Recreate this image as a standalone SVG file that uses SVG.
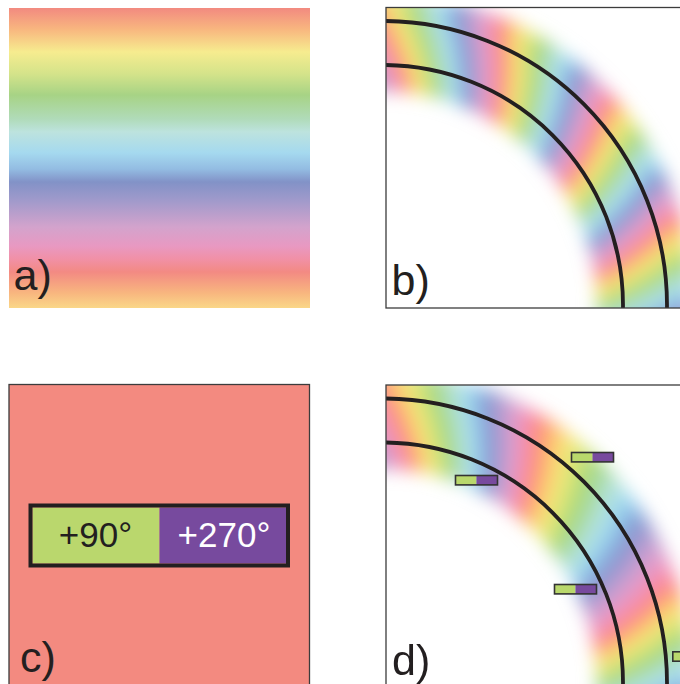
<svg xmlns="http://www.w3.org/2000/svg" width="680" height="684" viewBox="0 0 680 684">
<style>
.lbl{font-family:"Liberation Sans",Arial,sans-serif;font-size:43px;fill:#231f20}
.frame{fill:none;stroke:#3c3c3c;stroke-width:1.3}
.arc{fill:none;stroke:#231f20;stroke-width:3.8}
.seg circle{fill:none;stroke-width:19;stroke-dasharray:1.15 16.85}
.mg{fill:#b9d86c}
.mp{fill:#784a9e}
.mo{fill:none;stroke:#333;stroke-width:1.6}
.val{font-family:"Liberation Sans",Arial,sans-serif;font-size:35px;text-anchor:middle}
</style>
<defs>
<linearGradient id="gradA" x1="0" y1="0" x2="0" y2="1">
<stop offset="0" stop-color="#F28A80"/>
<stop offset="0.0704" stop-color="#F8B67F"/>
<stop offset="0.1467" stop-color="#F6EC8F"/>
<stop offset="0.22" stop-color="#D4E38A"/>
<stop offset="0.29" stop-color="#A7D385"/>
<stop offset="0.37" stop-color="#B0DBB9"/>
<stop offset="0.413" stop-color="#BDE3DE"/>
<stop offset="0.483" stop-color="#A5D9EF"/>
<stop offset="0.537" stop-color="#93BCE2"/>
<stop offset="0.58" stop-color="#8292C7"/>
<stop offset="0.643" stop-color="#A19ACB"/>
<stop offset="0.73" stop-color="#D3A3CC"/>
<stop offset="0.793" stop-color="#E899C2"/>
<stop offset="0.837" stop-color="#F190A6"/>
<stop offset="0.88" stop-color="#F38A83"/>
<stop offset="0.95" stop-color="#F8B67F"/>
<stop offset="1" stop-color="#FAD788"/>
</linearGradient>
<filter id="blur" filterUnits="userSpaceOnUse" x="-400" y="-400" width="800" height="800">
<feGaussianBlur stdDeviation="9"/>
<feColorMatrix type="saturate" values="1.15"/>
</filter>
<clipPath id="clipB"><rect x="386" y="8" width="300" height="300"/></clipPath>
<clipPath id="clipD"><rect x="386" y="385.5" width="300" height="300"/></clipPath>
<clipPath id="w1"><polygon points="0,0 -424.3,-424.3 0,-600 385.7,-459.6"/></clipPath>
<clipPath id="w2"><polygon points="0,0 339.8,-494.5 491.5,-344.2 590.9,-104.2"/></clipPath>
<clipPath id="w3"><polygon points="0,0 580.9,-150.2 600,0 424.3,424.3"/></clipPath>
<g id="ringB" class="seg"><g transform="rotate(-135)">
<circle r="263" pathLength="254.62" stroke="#F49980" stroke-dashoffset="-14.676"/>
<circle r="263" pathLength="254.62" stroke="#F8B87F" stroke-dashoffset="-15.676"/>
<circle r="263" pathLength="254.62" stroke="#F7DB8A" stroke-dashoffset="-16.676"/>
<circle r="263" pathLength="254.62" stroke="#EBE98D" stroke-dashoffset="-17.676"/>
<circle r="263" pathLength="254.62" stroke="#D4E38A" stroke-dashoffset="-18.676"/>
<circle r="263" pathLength="254.62" stroke="#B4D886" stroke-dashoffset="-19.676"/>
<circle r="263" pathLength="254.62" stroke="#AAD697" stroke-dashoffset="-20.676"/>
<circle r="263" pathLength="254.62" stroke="#B0DBB8" stroke-dashoffset="-21.676"/>
<circle r="263" pathLength="254.62" stroke="#BCE2DD" stroke-dashoffset="-22.676"/>
<circle r="263" pathLength="254.62" stroke="#ACDCEA" stroke-dashoffset="-23.676"/>
<circle r="263" pathLength="254.62" stroke="#9BC9E8" stroke-dashoffset="-24.676"/>
<circle r="263" pathLength="254.62" stroke="#89A4D2" stroke-dashoffset="-25.676"/>
<circle r="263" pathLength="254.62" stroke="#9196C9" stroke-dashoffset="-26.676"/>
<circle r="263" pathLength="254.62" stroke="#AB9CCB" stroke-dashoffset="-27.676"/>
<circle r="263" pathLength="254.62" stroke="#C7A1CC" stroke-dashoffset="-28.676"/>
<circle r="263" pathLength="254.62" stroke="#DC9FC8" stroke-dashoffset="-29.676"/>
<circle r="263" pathLength="254.62" stroke="#EB96B8" stroke-dashoffset="-30.676"/>
<circle r="263" pathLength="254.62" stroke="#F28D97" stroke-dashoffset="-31.676"/>
</g></g>
<g id="ringD" class="seg">
<g clip-path="url(#w1)"><g transform="rotate(-135)">
<circle r="263" pathLength="204.42" stroke="#F49980" stroke-dashoffset="-9.142"/>
<circle r="263" pathLength="204.42" stroke="#F8B87F" stroke-dashoffset="-10.142"/>
<circle r="263" pathLength="204.42" stroke="#F7DB8A" stroke-dashoffset="-11.142"/>
<circle r="263" pathLength="204.42" stroke="#EBE98D" stroke-dashoffset="-12.142"/>
<circle r="263" pathLength="204.42" stroke="#D4E38A" stroke-dashoffset="-13.142"/>
<circle r="263" pathLength="204.42" stroke="#B4D886" stroke-dashoffset="-14.142"/>
<circle r="263" pathLength="204.42" stroke="#AAD697" stroke-dashoffset="-15.142"/>
<circle r="263" pathLength="204.42" stroke="#B0DBB8" stroke-dashoffset="-16.142"/>
<circle r="263" pathLength="204.42" stroke="#BCE2DD" stroke-dashoffset="-17.142"/>
<circle r="263" pathLength="204.42" stroke="#ACDCEA" stroke-dashoffset="-18.142"/>
<circle r="263" pathLength="204.42" stroke="#9BC9E8" stroke-dashoffset="-19.142"/>
<circle r="263" pathLength="204.42" stroke="#89A4D2" stroke-dashoffset="-20.142"/>
<circle r="263" pathLength="204.42" stroke="#9196C9" stroke-dashoffset="-21.142"/>
<circle r="263" pathLength="204.42" stroke="#AB9CCB" stroke-dashoffset="-22.142"/>
<circle r="263" pathLength="204.42" stroke="#C7A1CC" stroke-dashoffset="-23.142"/>
<circle r="263" pathLength="204.42" stroke="#DC9FC8" stroke-dashoffset="-24.142"/>
<circle r="263" pathLength="204.42" stroke="#EB96B8" stroke-dashoffset="-25.142"/>
<circle r="263" pathLength="204.42" stroke="#F28D97" stroke-dashoffset="-26.142"/>
</g></g>
<g clip-path="url(#w2)"><g transform="rotate(-135)">
<circle r="263" pathLength="158.05" stroke="#F49980" stroke-dashoffset="-16.902"/>
<circle r="263" pathLength="158.05" stroke="#F8B87F" stroke-dashoffset="-17.902"/>
<circle r="263" pathLength="158.05" stroke="#F7DB8A" stroke-dashoffset="-18.902"/>
<circle r="263" pathLength="158.05" stroke="#EBE98D" stroke-dashoffset="-19.902"/>
<circle r="263" pathLength="158.05" stroke="#D4E38A" stroke-dashoffset="-20.902"/>
<circle r="263" pathLength="158.05" stroke="#B4D886" stroke-dashoffset="-21.902"/>
<circle r="263" pathLength="158.05" stroke="#AAD697" stroke-dashoffset="-22.902"/>
<circle r="263" pathLength="158.05" stroke="#B0DBB8" stroke-dashoffset="-23.902"/>
<circle r="263" pathLength="158.05" stroke="#BCE2DD" stroke-dashoffset="-24.902"/>
<circle r="263" pathLength="158.05" stroke="#ACDCEA" stroke-dashoffset="-25.902"/>
<circle r="263" pathLength="158.05" stroke="#9BC9E8" stroke-dashoffset="-26.902"/>
<circle r="263" pathLength="158.05" stroke="#89A4D2" stroke-dashoffset="-27.902"/>
<circle r="263" pathLength="158.05" stroke="#9196C9" stroke-dashoffset="-28.902"/>
<circle r="263" pathLength="158.05" stroke="#AB9CCB" stroke-dashoffset="-29.902"/>
<circle r="263" pathLength="158.05" stroke="#C7A1CC" stroke-dashoffset="-30.902"/>
<circle r="263" pathLength="158.05" stroke="#DC9FC8" stroke-dashoffset="-31.902"/>
<circle r="263" pathLength="158.05" stroke="#EB96B8" stroke-dashoffset="-32.902"/>
<circle r="263" pathLength="158.05" stroke="#F28D97" stroke-dashoffset="-33.902"/>
</g></g>
<g clip-path="url(#w3)"><g transform="rotate(-135)">
<circle r="263" pathLength="209.03" stroke="#F49980" stroke-dashoffset="-15.968"/>
<circle r="263" pathLength="209.03" stroke="#F8B87F" stroke-dashoffset="-16.968"/>
<circle r="263" pathLength="209.03" stroke="#F7DB8A" stroke-dashoffset="-17.968"/>
<circle r="263" pathLength="209.03" stroke="#EBE98D" stroke-dashoffset="-18.968"/>
<circle r="263" pathLength="209.03" stroke="#D4E38A" stroke-dashoffset="-19.968"/>
<circle r="263" pathLength="209.03" stroke="#B4D886" stroke-dashoffset="-20.968"/>
<circle r="263" pathLength="209.03" stroke="#AAD697" stroke-dashoffset="-21.968"/>
<circle r="263" pathLength="209.03" stroke="#B0DBB8" stroke-dashoffset="-22.968"/>
<circle r="263" pathLength="209.03" stroke="#BCE2DD" stroke-dashoffset="-23.968"/>
<circle r="263" pathLength="209.03" stroke="#ACDCEA" stroke-dashoffset="-24.968"/>
<circle r="263" pathLength="209.03" stroke="#9BC9E8" stroke-dashoffset="-25.968"/>
<circle r="263" pathLength="209.03" stroke="#89A4D2" stroke-dashoffset="-26.968"/>
<circle r="263" pathLength="209.03" stroke="#9196C9" stroke-dashoffset="-27.968"/>
<circle r="263" pathLength="209.03" stroke="#AB9CCB" stroke-dashoffset="-28.968"/>
<circle r="263" pathLength="209.03" stroke="#C7A1CC" stroke-dashoffset="-29.968"/>
<circle r="263" pathLength="209.03" stroke="#DC9FC8" stroke-dashoffset="-30.968"/>
<circle r="263" pathLength="209.03" stroke="#EB96B8" stroke-dashoffset="-31.968"/>
<circle r="263" pathLength="209.03" stroke="#F28D97" stroke-dashoffset="-32.968"/>
</g></g>
</g>
<g id="mk">
<rect class="mg" width="21" height="9.4"/>
<rect class="mp" x="21" width="21" height="9.4"/>
<rect class="mo" width="42" height="9.4"/>
</g>
</defs>

<rect width="680" height="684" fill="#ffffff"/>

<g id="panel-a">
<rect x="9" y="8" width="301" height="300" fill="url(#gradA)"/>
<text class="lbl" x="13.5" y="290">a)</text>
</g>

<g id="panel-b">
<g clip-path="url(#clipB)">
<g transform="translate(383,305)" filter="url(#blur)">
<use href="#ringB" transform="rotate(4.1) scale(0.8441)"/>
<use href="#ringB" transform="rotate(2.5) scale(0.9049)"/>
<use href="#ringB" transform="rotate(0.9) scale(0.9658)"/>
<use href="#ringB" transform="rotate(-0.7) scale(1.0266)"/>
<use href="#ringB" transform="rotate(-2.3) scale(1.0875)"/>
<use href="#ringB" transform="rotate(-3.7) scale(1.1407)"/>
</g>
<circle class="arc" cx="383" cy="305" r="284"/>
<circle class="arc" cx="383" cy="305" r="240"/>
</g>
<rect class="frame" x="386" y="7.5" width="310" height="300.5"/>
<text class="lbl" x="391.5" y="295">b)</text>
</g>

<g id="panel-c">
<rect x="9" y="384.5" width="300.5" height="310" fill="#F38A80" stroke="#3c3c3c" stroke-width="1.3"/>
<rect x="32.5" y="507.5" width="127" height="56" fill="#BAD76D"/>
<rect x="159.5" y="507.5" width="127" height="56" fill="#774A9E"/>
<rect x="30.5" y="505.5" width="257.5" height="60" fill="none" stroke="#231f20" stroke-width="4"/>
<text class="val" x="95.5" y="546.5" fill="#231f20">+90°</text>
<text class="val" x="224" y="546.5" fill="#ffffff">+270°</text>
<text class="lbl" x="20" y="671.5">c)</text>
</g>

<g id="panel-d">
<g clip-path="url(#clipD)">
<g transform="translate(383,682.5)" filter="url(#blur)">
<use href="#ringD" transform="rotate(4.1) scale(0.8441)"/>
<use href="#ringD" transform="rotate(2.5) scale(0.9049)"/>
<use href="#ringD" transform="rotate(0.9) scale(0.9658)"/>
<use href="#ringD" transform="rotate(-0.7) scale(1.0266)"/>
<use href="#ringD" transform="rotate(-2.3) scale(1.0875)"/>
<use href="#ringD" transform="rotate(-3.7) scale(1.1407)"/>
</g>
<circle class="arc" cx="383" cy="682.5" r="284"/>
<circle class="arc" cx="383" cy="682.5" r="240"/>
</g>
<rect class="frame" x="386" y="385" width="310" height="310"/>
<text class="lbl" x="392" y="675">d)</text>
</g>

<g id="markers">
<use href="#mk" x="571.5" y="452.5"/>
<use href="#mk" x="455.5" y="475.5"/>
<use href="#mk" x="554.5" y="584.5"/>
<use href="#mk" x="672.8" y="651.8"/>
</g>
</svg>
